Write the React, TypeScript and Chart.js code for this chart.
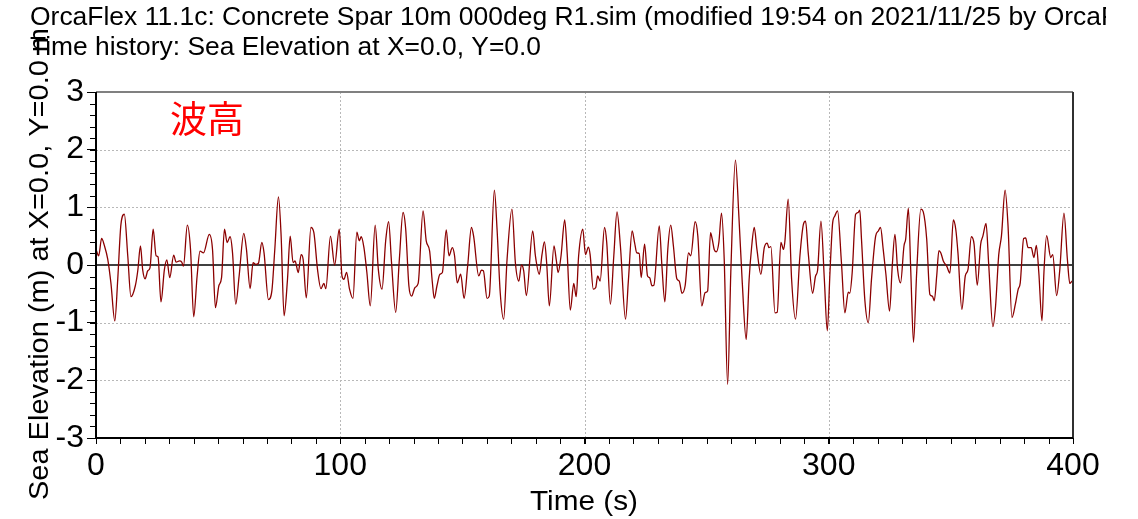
import React, { useEffect, useRef } from "react";
import { Chart, registerables } from "chart.js";

Chart.register(...registerables);

const timeSeconds = [
  0, 1.1, 2.3, 3.4, 4.8, 6.1, 7.7, 8.9, 10.2, 11.6, 13.0, 14.3, 16.1, 17.1, 18.2, 19.1, 20.1, 21.2, 22.1, 23.4,
  24.6, 25.4, 26.6, 28.0, 29.0, 30.2, 31.8, 32.8, 34.2, 35.1, 35.8, 37.4, 38.7, 40.0, 41.4, 42.6, 44.0, 46.4, 47.7, 48.9,
  50.3, 51.4, 52.6, 53.7, 54.9, 55.9, 57.2, 58.6, 60.5, 61.6, 63.1, 64.3, 65.4, 66.5, 67.9, 68.8, 70.6, 72.0, 73.2, 74.7,
  75.8, 77.0, 78.4, 79.5, 80.7, 81.5, 82.8, 84.0, 84.8, 86.1, 88.0, 89.2, 90.7, 92.1, 93.3, 94.1, 96.0, 97.7, 99.6, 100.7,
  101.5, 102.6, 103.8, 105.2, 106.8, 107.8, 108.6, 109.7, 110.9, 112.3, 114.3, 115.6, 117.1, 118.6, 119.8, 121.0, 122.7, 124.2, 125.7, 126.8,
  128.1, 129.2, 130.6, 131.9, 133.9, 135.2, 136.6, 137.7, 138.5, 139.6, 140.8, 141.8, 143.4, 144.5, 145.9, 146.8, 147.9, 149.3, 150.7, 152.2,
  153.7, 154.6, 156.7, 157.8, 158.6, 160.1, 161.0, 163.1, 164.2, 165.5, 166.9, 168.3, 170.3, 171.7, 173.1, 174.2, 175.1, 176.2, 178.8, 179.9,
  181.5, 182.6, 183.6, 184.5, 185.6, 187.5, 188.5, 189.2, 190.4, 191.9, 192.9, 194.2, 195.6, 196.6, 197.6, 199.3, 200.4, 201.6, 202.3, 203.6,
  204.6, 205.4, 206.4, 208.2, 209.1, 210.6, 212.0, 213.3, 214.7, 216.8, 218.0, 219.5, 220.5, 221.4, 222.4, 223.2, 224.6, 225.8, 226.7, 227.6,
  228.4, 230.6, 231.7, 232.9, 234.1, 235.3, 236.4, 237.8, 238.8, 239.9, 241.2, 242.6, 243.5, 245.3, 246.4, 248.0, 249.4, 250.4, 251.6, 252.3,
  253.1, 254.0, 255.0, 256.1, 257.2, 258.6, 259.9, 261.8, 263.2, 264.6, 266.2, 267.4, 268.4, 269.5, 270.6, 272.2, 273.6, 274.8, 275.5, 276.3,
  278.0, 278.9, 280.4, 281.5, 282.0, 283.4, 284.8, 286.4, 288.2, 289.6, 290.5, 291.6, 293.4, 294.6, 295.4, 296.8, 298.2, 299.4, 300.5, 301.6,
  302.5, 303.6, 305.2, 306.6, 308.0, 308.6, 309.6, 311.0, 312.0, 312.7, 313.4, 314.8, 316.2, 317.5, 319.2, 320.3, 321.2, 322.3, 323.4, 324.9,
  326.0, 327.1, 328.2, 329.4, 330.8, 331.5, 332.6, 333.6, 334.7, 336.0, 337.7, 338.7, 340.1, 341.4, 342.4, 343.2, 344.2, 345.1, 345.9, 346.9,
  348.3, 349.6, 351.0, 352.0, 352.9, 354.5, 355.9, 357.0, 358.4, 359.5, 360.8, 362.2, 363.1, 364.4, 365.5, 367.2, 368.3, 369.6, 370.7, 372.2,
  373.4, 375.0, 376.4, 377.5, 378.4, 379.8, 380.6, 381.6, 382.9, 384.0, 385.0, 386.0, 387.3, 388.1, 389.2, 390.9, 391.7, 393.3, 394.6, 396.3,
  397.7, 398.7, 399.6, 400,
];

const seaElevation = [
  0.27, 0.16, 0.46, 0.34, 0.1, -0.31, -0.97, -0.25, 0.7, 0.88, 0.16, -0.55, -0.36, -0.1, 0.33, -0.08, -0.24, -0.1, -0.05, 0.62,
  0.16, 0.14, -0.64, -0.08, 0.09, -0.22, 0.17, 0.05, 0.07, 0.05, -0.02, 0.69, 0.27, -0.9, -0.19, 0.24, 0.21, 0.53, 0.27, -0.74,
  -0.36, -0.22, 0.62, 0.39, 0.49, 0.21, -0.68, -0.19, 0.55, 0.27, -0.41, 0.04, 0.01, 0.03, 0.39, 0.21, -0.6, -0.45, 0.27, 1.18,
  0.5, -0.88, -0.25, 0.5, 0.04, 0.07, -0.13, 0.18, 0.1, -0.57, 0.65, 0.56, -0.08, -0.41, -0.32, -0.41, 0.5, 0.0, 0.62, -0.19,
  -0.25, -0.13, -0.42, -0.58, 0.57, 0.42, 0.49, 0.3, -0.13, -0.71, 0.69, -0.08, -0.42, 0.42, 0.75, 0.04, -0.82, 0.1, 0.91, 0.62,
  -0.36, -0.54, -0.39, -0.32, 0.94, 0.42, 0.24, -0.3, -0.58, -0.36, -0.16, -0.13, 0.61, 0.16, 0.3, 0.16, -0.31, -0.16, -0.58, 0.0,
  0.65, 0.5, -0.19, -0.09, -0.1, -0.58, -0.54, 1.3, 0.62, -0.48, -0.94, 0.1, 0.97, 0.04, -0.28, 0.0, -0.1, -0.53, 0.59, 0.16,
  -0.16, 0.18, 0.4, 0.04, -0.71, 0.33, 0.07, -0.13, 0.16, 0.78, 0.21, -0.78, -0.32, -0.55, 0.16, 0.62, 0.18, 0.31, 0.18, -0.42,
  -0.39, -0.19, -0.28, 0.65, 0.39, -0.68, 0.16, 0.92, 0.33, -0.94, -0.25, 0.59, 0.39, 0.21, 0.2, -0.22, 0.36, -0.19, -0.22, -0.36,
  -0.35, 0.68, -0.02, -0.64, 0.27, 0.69, 0.33, -0.24, -0.28, -0.49, -0.36, 0.21, 0.16, 0.75, 0.5, -0.71, -0.48, -0.45, 0.56, 0.45,
  0.27, 0.23, 0.39, 0.9, 0.1, -2.07, -0.13, 1.82, 0.85, -0.31, -1.29, -0.25, 0.3, 0.65, 0.27, -0.16, 0.3, 0.38, 0.3, 0.32,
  -0.83, -0.82, 0.39, 0.27, 0.39, 1.14, -0.25, -0.94, 0.16, 0.7, 0.76, 0.21, -0.49, -0.19, -0.1, 0.76, -0.25, -1.14, -0.13, 0.73,
  0.85, 0.94, 0.04, -0.83, -0.47, -0.49, -0.13, 0.88, 0.91, 0.95, 0.45, -0.62, -1.0, -0.25, 0.5, 0.59, 0.65, 0.27, -0.16, -0.8,
  -0.02, 0.53, -0.08, -0.31, 0.33, 0.45, 0.98, -0.13, -1.34, -0.13, 0.97, 0.92, 0.45, -0.51, -0.54, -0.62, -0.19, 0.25, 0.21, 0.07,
  -0.02, -0.14, 0.78, 0.62, 0.21, -0.77, -0.19, -0.08, 0.49, 0.36, -0.35, 0.36, 0.5, 0.72, 0.0, -1.07, -0.71, 0.18, 0.5, 1.3,
  0.68, -0.91, -0.68, -0.43, -0.31, 0.46, 0.47, 0.3, 0.3, 0.13, 0.34, -0.13, -0.97, -0.13, 0.51, 0.13, 0.18, -0.53, -0.08, 0.9,
  0.1, -0.32, -0.28, -0.27,
];

const xTickValues = [0, 100, 200, 300, 400];
const yTickValues = [-3, -2, -1, 0, 1, 2, 3];
const xGridValues = [100, 200, 300];
const yGridValues = [-2, -1, 1, 2];

const titleLine1 = "OrcaFlex 11.1c: Concrete Spar 10m 000deg R1.sim (modified 19:54 on 2021/11/25 by OrcaFlex";
const titleLine1Fit = "OrcaFlex 11.1c: Concrete Spar 10m 000deg R1.sim (modified 19:54 on 2021/11/25 by Orca";
const titleLine2 = "Time history: Sea Elevation at X=0.0, Y=0.0";
const yAxisTitle = "Sea Elevation (m) at X=0.0, Y=0.0 m";
const xAxisTitle = "Time (s)";
const annotationText = "波高";

const FONT = '"Liberation Sans", Arial, sans-serif';

function fitText(ctx: CanvasRenderingContext2D, text: string, width: number, fitOn?: string) {
  const w = ctx.measureText(fitOn ?? text).width;
  const s = width / w;
  ctx.save();
  ctx.scale(s, 1);
  ctx.fillText(text, 0, 0);
  ctx.restore();
}

const decorPlugin = {
  id: "decor",
  beforeDatasetsDraw(chart: any) {
    const { ctx, chartArea: a, scales } = chart;
    const x = scales.x;
    const y = scales.y;
    ctx.save();
    ctx.strokeStyle = "#b8b8b8";
    ctx.lineWidth = 1;
    ctx.setLineDash([2, 2]);
    ctx.beginPath();
    for (const v of xGridValues) {
      const px = Math.round(x.getPixelForValue(v)) + 0.5;
      ctx.moveTo(px, a.top);
      ctx.lineTo(px, a.bottom);
    }
    for (const v of yGridValues) {
      const py = Math.round(y.getPixelForValue(v)) + 0.5;
      ctx.moveTo(a.left, py);
      ctx.lineTo(a.right, py);
    }
    ctx.stroke();
    ctx.setLineDash([]);
    // zero line
    ctx.strokeStyle = "#404040";
    ctx.lineWidth = 2;
    ctx.beginPath();
    const y0 = Math.round(y.getPixelForValue(0));
    ctx.moveTo(a.left, y0);
    ctx.lineTo(a.right, y0);
    ctx.stroke();
    ctx.restore();
  },
  afterDatasetsDraw(chart: any) {
    const { ctx, chartArea: a, scales } = chart;
    const x = scales.x;
    const y = scales.y;
    ctx.save();
    // minor ticks
    ctx.strokeStyle = "#000";
    ctx.lineWidth = 1;
    ctx.beginPath();
    for (let v = 0; v <= 400; v += 10) {
      const px = Math.round(x.getPixelForValue(v)) + 0.5;
      ctx.moveTo(px, a.bottom);
      ctx.lineTo(px, a.bottom + 6);
    }
    for (let i = -15; i <= 15; i++) {
      const py = Math.round(y.getPixelForValue(i / 5)) + 0.5;
      ctx.moveTo(a.left - 6, py);
      ctx.lineTo(a.left, py);
    }
    ctx.stroke();
    // frame
    ctx.lineWidth = 2;
    ctx.strokeStyle = "#808080";
    ctx.beginPath();
    ctx.moveTo(a.left, a.top);
    ctx.lineTo(a.right, a.top);
    ctx.stroke();
    ctx.strokeStyle = "#303030";
    ctx.beginPath();
    ctx.moveTo(a.right, a.top);
    ctx.lineTo(a.right, a.bottom);
    ctx.stroke();
    ctx.strokeStyle = "#000";
    ctx.beginPath();
    ctx.moveTo(a.left, a.top);
    ctx.lineTo(a.left, a.bottom);
    ctx.lineTo(a.right, a.bottom);
    ctx.stroke();
    ctx.restore();
  },
  afterDraw(chart: any) {
    const { ctx, chartArea: a } = chart;
    ctx.save();
    ctx.fillStyle = "#000";
    ctx.textAlign = "left";
    ctx.textBaseline = "alphabetic";
    ctx.font = `25px ${FONT}`;
    // title line 1 (clipped at the right)
    ctx.save();
    ctx.beginPath();
    ctx.rect(0, 0, 1106, 60);
    ctx.clip();
    ctx.translate(30, 25);
    fitText(ctx, titleLine1, 1071, titleLine1Fit);
    ctx.restore();
    // title line 2
    ctx.save();
    ctx.translate(30, 55);
    fitText(ctx, titleLine2, 511);
    ctx.restore();
    // y axis title
    ctx.save();
    ctx.font = `27px ${FONT}`;
    ctx.translate(48, (a.top + a.bottom) / 2 - 1);
    ctx.rotate(-Math.PI / 2);
    ctx.textAlign = "left";
    const yw = 472;
    ctx.translate(-yw / 2, 0);
    fitText(ctx, yAxisTitle, yw);
    ctx.restore();
    // x axis title
    ctx.save();
    ctx.font = `28px ${FONT}`;
    ctx.translate(530, 510);
    fitText(ctx, xAxisTitle, 108);
    ctx.restore();
    // annotation
    ctx.save();
    ctx.fillStyle = "#ff0000";
    ctx.font = `37px "Noto Sans CJK JP", sans-serif`;
    ctx.fillText(annotationText, 170, 133);
    ctx.restore();
    ctx.restore();
  },
};

export default function App() {
  const canvasRef = useRef<HTMLCanvasElement | null>(null);

  useEffect(() => {
    const canvas = canvasRef.current;
    if (!canvas) return;
    const points = timeSeconds.map((t, i) => ({ x: t, y: seaElevation[i] }));
    const chart = new Chart(canvas, {
      type: "line",
      data: {
        datasets: [
          {
            data: points,
            borderColor: "#8b0000",
            borderWidth: 1.3,
            pointRadius: 0,
            cubicInterpolationMode: "monotone",
            fill: false,
          },
        ],
      },
      options: {
        animation: false,
        responsive: false,
        maintainAspectRatio: false,
        layout: { padding: { left: 0, right: 65, top: 92, bottom: 0 } },
        plugins: {
          legend: { display: false },
          tooltip: { enabled: false },
          title: { display: false },
        },
        scales: {
          x: {
            type: "linear",
            min: 0,
            max: 400,
            afterFit: (s: any) => {
              s.height = 81;
            },
            afterBuildTicks: (s: any) => {
              s.ticks = xTickValues.map((v) => ({ value: v }));
            },
            ticks: {
              color: "#000",
              font: { family: FONT, size: 32 },
              padding: 3,
              maxRotation: 0,
              autoSkip: false,
            },
            grid: {
              display: true,
              drawOnChartArea: false,
              drawTicks: true,
              tickLength: 6,
              tickColor: "#000",
            },
            border: { display: false },
          },
          y: {
            type: "linear",
            min: -3,
            max: 3,
            afterFit: (s: any) => {
              s.width = 96;
            },
            afterBuildTicks: (s: any) => {
              s.ticks = yTickValues.map((v) => ({ value: v }));
            },
            ticks: {
              color: "#000",
              font: { family: FONT, size: 32 },
              padding: 3,
              autoSkip: false,
            },
            grid: {
              display: true,
              drawOnChartArea: false,
              drawTicks: true,
              tickLength: 9,
              tickColor: "#000",
            },
            border: { display: false },
          },
        },
      },
      plugins: [decorPlugin],
    });
    return () => chart.destroy();
  }, []);

  return (
    <div style={{ position: "fixed", left: 0, top: 0, width: 1138, height: 519, background: "#fff" }}>
      <canvas ref={canvasRef} width={1138} height={519} style={{ width: 1138, height: 519, display: "block" }} />
    </div>
  );
}
